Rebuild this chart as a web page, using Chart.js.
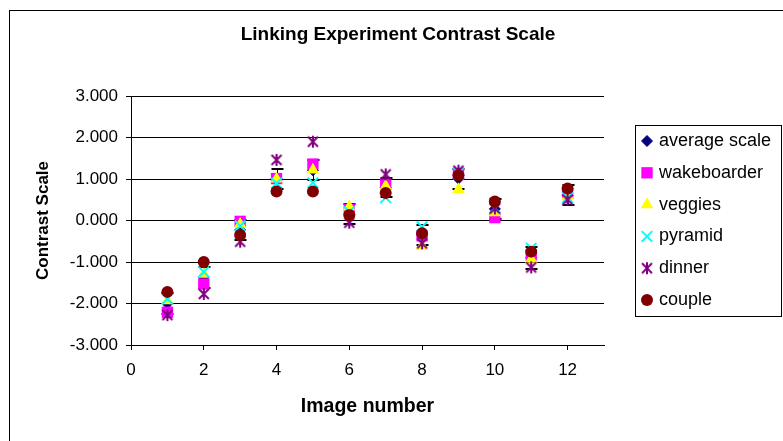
<!DOCTYPE html>
<html>
<head>
<meta charset="utf-8">
<title>Linking Experiment Contrast Scale</title>
<script src="https://cdn.jsdelivr.net/npm/chart.js@4.4.1/dist/chart.umd.min.js"></script>
<style>
  html, body { margin: 0; padding: 0; background: #fff; }
</style>
</head>
<body>
<canvas id="contrastChart" width="783" height="441"></canvas>
<script>
// values
const imageNumbers = [1, 2, 3, 4, 5, 6, 7, 8, 9, 10, 11, 12];
const averageScale = [-2.00, -1.37, -0.23, 1.01, 1.21, 0.15, 0.80, -0.35, 1.01, 0.28, -0.90, 0.61];
const averageError = [0.26, 0.25, 0.24, 0.24, 0.24, 0.24, 0.23, 0.24, 0.24, 0.25, 0.27, 0.24];
const wakeboarder = [-2.21, -1.53, -0.02, 1.01, 1.36, 0.27, 0.87, -0.37, 1.12, 0.07, -0.83, 0.65];
const veggies = [-1.93, -1.29, -0.09, 1.00, 1.22, 0.33, 0.83, -0.61, 0.75, 0.19, -0.93, 0.60];
const pyramid = [-1.89, -1.24, -0.13, 0.90, 0.91, 0.21, 0.55, -0.15, 1.15, 0.30, -0.67, 0.55];
const dinner = [-2.28, -1.77, -0.51, 1.46, 1.90, -0.05, 1.11, -0.55, 1.20, 0.29, -1.13, 0.50];
const couple = [-1.72, -1.00, -0.35, 0.70, 0.70, 0.13, 0.66, -0.31, 1.09, 0.46, -0.75, 0.77];

const chartTitle = 'Linking Experiment Contrast Scale';
const xTitle = 'Image number';
const yTitle = 'Contrast Scale';
const xLastTick = 12;

Chart.defaults.font.family = '"Liberation Sans", Arial, sans-serif';
Chart.defaults.color = '#000';

function toPoints(values) {
  return imageNumbers.map((x, i) => ({ x: x, y: values[i] }));
}

// excel style asterisk marker (X with a vertical bar)
function asteriskMarker(color) {
  const c = document.createElement('canvas');
  c.width = 14;
  c.height = 14;
  const g = c.getContext('2d');
  g.strokeStyle = color;
  g.lineWidth = 2;
  g.beginPath();
  g.moveTo(7, 1); g.lineTo(7, 13);
  g.moveTo(2, 2); g.lineTo(12, 12);
  g.moveTo(12, 2); g.lineTo(2, 12);
  g.stroke();
  return c;
}

// error bars on the average series, drawn right after it
const errorBars = {
  id: 'errorBars',
  afterDatasetDraw(chart, args) {
    if (args.index !== 0) return;
    const ctx = chart.ctx;
    const y = chart.scales.y;
    ctx.save();
    ctx.strokeStyle = '#000';
    args.meta.data.forEach((pt, i) => {
      const x = Math.round(pt.x) + 0.5;
      const top = Math.round(y.getPixelForValue(averageScale[i] + averageError[i]));
      const bot = Math.round(y.getPixelForValue(averageScale[i] - averageError[i]));
      ctx.lineWidth = 1;
      ctx.beginPath();
      ctx.moveTo(x, top); ctx.lineTo(x, bot);
      ctx.stroke();
      ctx.lineWidth = 2;
      ctx.beginPath();
      ctx.moveTo(x - 6, top); ctx.lineTo(x + 6, top);
      ctx.moveTo(x - 6, bot); ctx.lineTo(x + 6, bot);
      ctx.stroke();
    });
    ctx.restore();
  }
};

// outer frame, title and the boxed legend
const excelFrame = {
  id: 'excelFrame',
  beforeDraw(chart) {
    const ctx = chart.ctx;
    ctx.save();
    ctx.fillStyle = '#fff';
    ctx.fillRect(0, 0, chart.width, chart.height);
    ctx.strokeStyle = '#000';
    ctx.lineWidth = 1;
    ctx.strokeRect(9.5, 10.5, 800, 500);
    ctx.fillStyle = '#000';
    ctx.font = 'bold 19px "Liberation Sans", Arial, sans-serif';
    ctx.textAlign = 'center';
    ctx.textBaseline = 'middle';
    ctx.fillText(chartTitle, 398, 35);
    ctx.restore();
  },
  afterDraw(chart) {
    const ctx = chart.ctx;
    ctx.save();
    ctx.strokeStyle = '#000';
    ctx.lineWidth = 1;
    ctx.strokeRect(635.5, 125.5, 146, 191);
    ctx.font = '18px "Liberation Sans", Arial, sans-serif';
    ctx.textBaseline = 'middle';
    chart.data.datasets.forEach((ds, i) => {
      const ly = 141 + i * 31.8;
      ctx.fillStyle = ds.backgroundColor;
      ctx.strokeStyle = ds.borderColor;
      ctx.lineWidth = ds.borderWidth;
      Chart.helpers.drawPoint(ctx, {
        pointStyle: ds.pointStyle,
        radius: ds.pointRadius,
        rotation: 0,
        borderWidth: ds.borderWidth
      }, 647, ly);
      ctx.fillStyle = '#000';
      ctx.fillText(ds.label, 659, ly);
    });
    ctx.restore();
  }
};

const ctx = document.getElementById('contrastChart').getContext('2d');

new Chart(ctx, {
  type: 'scatter',
  data: {
    datasets: [{
      label: 'average scale',
      data: toPoints(averageScale),
      pointStyle: 'rectRot',
      pointRadius: 5.5,
      backgroundColor: '#000080',
      borderColor: '#000080',
      borderWidth: 1,
      order: 6
    }, {
      label: 'wakeboarder',
      data: toPoints(wakeboarder),
      pointStyle: 'rect',
      pointRadius: 8,
      backgroundColor: '#FF00FF',
      borderColor: '#FF00FF',
      borderWidth: 0,
      order: 5
    }, {
      label: 'veggies',
      data: toPoints(veggies),
      pointStyle: 'triangle',
      pointRadius: 7.2,
      backgroundColor: '#FFFF00',
      borderColor: '#FFFF00',
      borderWidth: 0,
      order: 4
    }, {
      label: 'pyramid',
      data: toPoints(pyramid),
      pointStyle: 'crossRot',
      pointRadius: 7.5,
      backgroundColor: '#00FFFF',
      borderColor: '#00FFFF',
      borderWidth: 2,
      order: 3
    }, {
      label: 'dinner',
      data: toPoints(dinner),
      pointStyle: asteriskMarker('#800080'),
      pointRadius: 7,
      backgroundColor: '#800080',
      borderColor: '#800080',
      borderWidth: 0,
      order: 2
    }, {
      label: 'couple',
      data: toPoints(couple),
      pointStyle: 'circle',
      pointRadius: 6,
      backgroundColor: '#800000',
      borderColor: '#800000',
      borderWidth: 0,
      order: 1
    }]
  },
  options: {
    responsive: false,
    animation: false,
    events: [],
    layout: {
      padding: { left: 0, right: 179, top: 96, bottom: 0 }
    },
    plugins: {
      legend: { display: false },
      title: { display: false },
      tooltip: { enabled: false }
    },
    scales: {
      x: {
        type: 'linear',
        min: 0,
        max: 13,
        ticks: { stepSize: 2, font: { size: 17 }, padding: 10, maxRotation: 0 },
        afterBuildTicks: (s) => { s.ticks = s.ticks.filter(t => t.value <= xLastTick); },
        grid: { drawOnChartArea: false, tickLength: 5, color: '#000' },
        border: { color: '#000' },
        title: {
          display: true,
          text: xTitle,
          font: { size: 19.5, weight: 'bold' },
          padding: { top: 0, bottom: 23 }
        },
        afterFit: (s) => { s.height = 96; }
      },
      y: {
        min: -3,
        max: 3,
        ticks: {
          stepSize: 1,
          font: { size: 17 },
          padding: 8,
          callback: (v) => v.toFixed(3)
        },
        grid: { color: '#000', tickLength: 5 },
        border: { color: '#000' },
        title: {
          display: true,
          text: yTitle,
          font: { size: 17, weight: 'bold' },
          padding: { top: 33, bottom: 0 }
        },
        afterFit: (s) => { s.width = 131; }
      }
    }
  },
  plugins: [errorBars, excelFrame]
});
</script>
</body>
</html>
